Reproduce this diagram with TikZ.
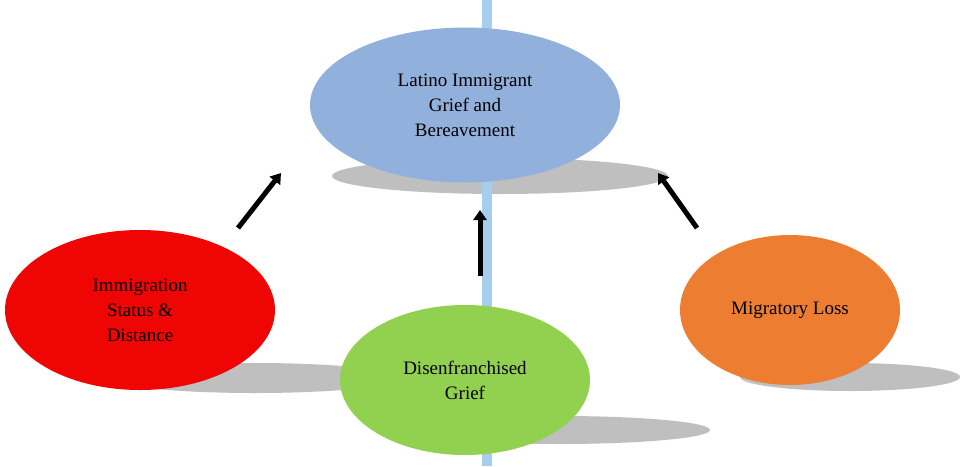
\documentclass[tikz,border=0pt]{standalone}
\usepackage{fontspec}
\setmainfont{Liberation Serif}
\usetikzlibrary{arrows.meta,shapes.geometric}
\definecolor{vline}{RGB}{165,205,238}
\begin{document}
\begin{tikzpicture}[x=1pt,y=-1pt,
  bub/.style={ellipse,draw=none,align=center,font=\fontsize{19}{25}\selectfont,inner sep=0pt},
  shad/.style={fill=black!25},
  arr/.style={line width=5pt,-{Triangle[length=10pt,width=13pt]}}]
\useasboundingbox (0,0) rectangle (960,466);
\fill[white] (0,0) rectangle (960,466);
\fill[vline] (482,0) rectangle (492,466);
\fill[shad] (500,176) ellipse (168 and 18);
\fill[shad] (255,378) ellipse (145 and 15);
\fill[shad] (560,430) ellipse (150 and 14);
\fill[shad] (850,377) ellipse (110 and 14);
\fill[vline] (482,160) rectangle (492,466);
\node[bub,fill={rgb,255:red,146;green,176;blue,220},minimum width=310,minimum height=155] (top) at (465,105) {Latino Immigrant\\Grief and\\Bereavement};
\node[bub,fill={rgb,255:red,240;green,5;blue,5},minimum width=270,minimum height=160] (red) at (140,310) {Immigration\\Status \&\\Distance};
\node[bub,fill={rgb,255:red,146;green,208;blue,80},minimum width=250,minimum height=150] (green) at (465,380) {Disenfranchised\\Grief};
\node[bub,fill={rgb,255:red,237;green,125;blue,49},minimum width=220,minimum height=150] (orange) at (790,310) {Migratory Loss};
\coordinate (a1s) at (238,228); \coordinate (a1e) at (281,173);
\coordinate (a2s) at (480,276); \coordinate (a2e) at (480,210);
\coordinate (a3s) at (697,228); \coordinate (a3e) at (658,173);
\draw[arr] (a1s) -- (a1e);
\draw[arr] (a2s) -- (a2e);
\draw[arr] (a3s) -- (a3e);
\end{tikzpicture}
\end{document}
